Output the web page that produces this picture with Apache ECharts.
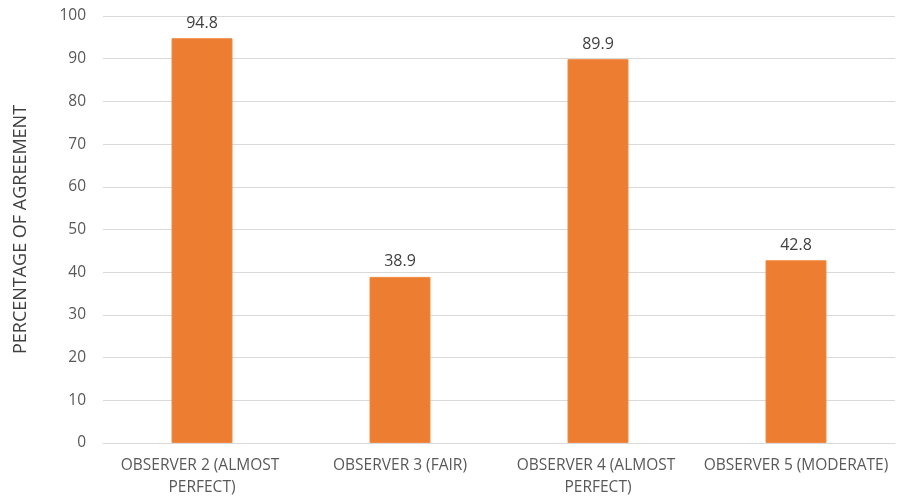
<!DOCTYPE html>
<html>
<head>
<meta charset="utf-8">
<style>
  html, body { margin: 0; padding: 0; background: #fff; }
  #chart { width: 898px; height: 499px; }
</style>
<script src="https://cdn.jsdelivr.net/npm/echarts@6/dist/echarts.min.js"></script>
</head>
<body>
<div id="chart"></div>
<script>
// Observer agreement categories and their percentages
const categories = [
  'OBSERVER 2 (ALMOST PERFECT)',
  'OBSERVER 3 (FAIR)',
  'OBSERVER 4 (ALMOST PERFECT)',
  'OBSERVER 5 (MODERATE)'
];
const agreement = [94.8, 38.9, 89.9, 42.8];
const yTicks = [0, 10, 20, 30, 40, 50, 60, 70, 80, 90, 100];

const chart = echarts.init(document.getElementById('chart'));
const font = '"Open Sans", "Noto Sans", sans-serif';

chart.setOption({
  animation: false,
  grid: { left: 103, right: 3, top: 16, bottom: 55, containLabel: false },
  xAxis: {
    type: 'category',
    data: categories,
    axisLine: { lineStyle: { color: '#d9d9d9', width: 1 } },
    axisTick: { show: false },
    axisLabel: {
      color: '#595959',
      fontFamily: font,
      fontSize: 15.5,
      margin: 12,
      lineHeight: 22,
      width: 192,
      overflow: 'break',
      interval: 0
    }
  },
  yAxis: {
    type: 'value',
    min: yTicks[0],
    max: yTicks[yTicks.length - 1],
    interval: 10,
    name: 'PERCENTAGE OF AGREEMENT',
    nameLocation: 'middle',
    nameGap: 73,
    nameRotate: 90,
    nameTextStyle: { color: '#404040', fontFamily: font, fontSize: 18 },
    axisLine: { show: false },
    axisTick: { show: false },
    splitLine: { lineStyle: { color: '#d9d9d9', width: 1 } },
    axisLabel: { color: '#595959', fontFamily: font, fontSize: 15.5, margin: 17 }
  },
  series: [{
    type: 'bar',
    data: agreement,
    barWidth: 61,
    itemStyle: { color: '#ED7D31', borderColor: '#f08a45', borderWidth: 1 },
    label: {
      show: true,
      position: 'top',
      distance: 7,
      color: '#404040',
      fontFamily: font,
      fontSize: 16,
      formatter: p => p.value.toFixed(1)
    }
  }]
});
</script>
</body>
</html>
